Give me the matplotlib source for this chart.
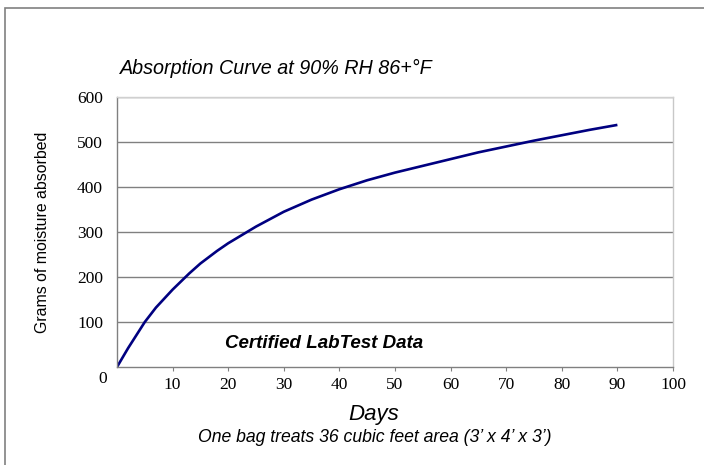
import matplotlib.pyplot as plt
from matplotlib.patches import Rectangle

# values
days = [0, 2, 5, 7, 10, 13, 15, 18, 20, 25, 30, 35, 40, 45, 50, 55, 60, 65, 70, 75, 80, 85, 90]
grams = [0, 42, 100, 132, 172, 208, 230, 258, 275, 312, 345, 372, 395, 415, 432, 447, 462,
         477, 490, 503, 515, 527, 538]

x_ticks = list(range(10, 101, 10))
y_ticks = list(range(100, 601, 100))


def plot_absorption():
    fig = plt.figure(figsize=(7.04, 4.65), dpi=100)
    fig.patches.append(Rectangle((5 / 704, -0.5), 2, 1.5 - 8 / 465, transform=fig.transFigure,
                                 fill=False, edgecolor='#808080', linewidth=1.2))

    ax = fig.add_axes([117 / 704, 1 - 367 / 465, 556 / 704, 270 / 465])
    ax.plot(days, grams, color='#000080', linewidth=1.9, solid_capstyle='butt')

    ax.set_xlim(0, 100)
    ax.set_ylim(0, 600)
    ax.set_xticks(x_ticks)
    ax.set_yticks(y_ticks)
    ax.set_xticklabels([str(t) for t in x_ticks], family='Liberation Serif', fontsize=12.5)
    ax.set_yticklabels([str(t) for t in y_ticks], family='Liberation Serif', fontsize=12.5)
    ax.tick_params(axis='x', length=3, width=0.8, color='#808080', pad=4)
    ax.tick_params(axis='y', length=0, pad=10)
    ax.text(-0.018, -0.043, '0', transform=ax.transAxes, ha='right', va='center',
            family='Liberation Serif', fontsize=12.5)

    ax.grid(axis='y', color='#808080', linewidth=1.0)
    ax.set_axisbelow(True)
    ax.spines['left'].set_color('#808080')
    ax.spines['bottom'].set_color('#808080')
    ax.spines['top'].set_color('#d0d0d0')
    ax.spines['right'].set_color('#c8c8c8')
    for s in ax.spines.values():
        s.set_linewidth(1.0)

    ax.set_ylabel('Grams of moisture absorbed', family='Liberation Sans', fontsize=11.4)
    ax.yaxis.set_label_coords(-0.12, 0.5)

    fig.text(120 / 704, 1 - 68 / 465, 'Absorption Curve at 90% RH 86+°F', ha='left',
             va='center', family='Liberation Sans', style='italic', fontsize=14.2)
    fig.text(374 / 704, 1 - 414 / 465, 'Days', ha='center', va='center',
             family='Liberation Sans', style='italic', fontsize=16)
    fig.text(375 / 704, 1 - 437 / 465, 'One bag treats 36 cubic feet area (3\u2019 x 4\u2019 x 3\u2019)',
             ha='center', va='center', family='Liberation Sans', style='italic', fontsize=12.7)
    ax.text(324 / 704, 1 - 343 / 465, 'Certified LabTest Data', transform=fig.transFigure,
            ha='center', va='center', family='Liberation Sans', style='italic',
            weight='bold', fontsize=13.5)

    fig.savefig('out.png', dpi=100)
    plt.close(fig)


if __name__ == '__main__':
    plot_absorption()
